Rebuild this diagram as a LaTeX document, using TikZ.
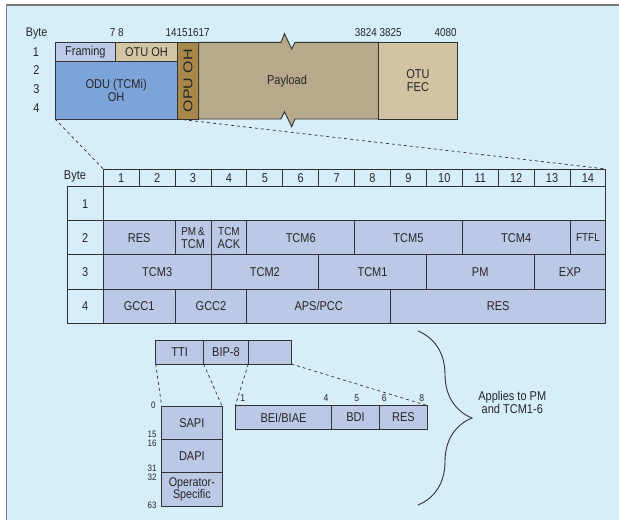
\documentclass[tikz,border=0pt]{standalone}
\usepackage{fontspec}
\setmainfont{Liberation Sans}[FakeStretch=0.86]
\usetikzlibrary{decorations.pathreplacing}
\definecolor{bg}{HTML}{D6EDFA}
\definecolor{framec}{HTML}{7A7A7A}
\definecolor{linec}{HTML}{333333}
\definecolor{txt}{HTML}{262626}
\definecolor{framing}{HTML}{BBCBE8}
\definecolor{otuoh}{HTML}{D4C5A5}
\definecolor{odu}{HTML}{7DA4D8}
\definecolor{opu}{HTML}{A8884A}
\definecolor{payload}{HTML}{B8A98C}
\definecolor{fec}{HTML}{D2C3A3}
\definecolor{tfill}{HTML}{BBC9E6}
\newcommand\tc[5]{\node[tcell, minimum width={#3*35.9pt}, anchor=north west] (#1) at ({103.3+(#2-1)*35.9},{186.7+(#4-1)*34.1}) {#5};}
\newcommand\hc[1]{\node[hcell, anchor=north west] (h#1) at ({103.3+(#1-1)*35.9},169) {#1};}
\newcommand\rc[1]{\node[rcell, anchor=north west] (r#1) at (67.3,{186.7+(#1-1)*34.1}) {#1};}
\begin{document}
\begin{tikzpicture}[x=1pt,y=-1pt,
  every node/.style={text=txt, inner sep=0pt, outer sep=0pt},
  lbl/.style={font=\fontsize{12.8}{13}\selectfont, align=center},
  num/.style={font=\fontsize{11.5}{11}\selectfont},
  box/.style={draw=linec, line width=0.9pt, lbl},
  tcell/.style={draw=linec, line width=0.9pt, fill=tfill, minimum height=34.1pt, lbl},
  hcell/.style={draw=linec, line width=0.9pt, minimum width=35.9pt, minimum height=17.7pt, lbl},
  rcell/.style={draw=linec, line width=0.9pt, minimum width=36pt, minimum height=34.1pt, lbl},
  tiny/.style={font=\fontsize{9.3}{9}\selectfont, anchor=east},
  bitn/.style={font=\fontsize{10}{10}\selectfont},
  dashline/.style={draw=linec, line width=0.7pt, dash pattern=on 3pt off 3pt}]
\useasboundingbox (0,0) rectangle (619,520);
\fill[bg] (7,5) rectangle (619,520);
\draw[framec, line width=1.4pt] (6.7,520) -- (6.7,5) -- (619,5);

% top frame
\node[font=\fontsize{12.5}{12}\selectfont] (byte0) at (36.7,33) {Byte};
\node[lbl] (b1) at (36,52) {1};
\node[lbl] (b2) at (36.5,70) {2};
\node[lbl] (b3) at (36.5,89) {3};
\node[lbl] (b4) at (36.5,108) {4};
\node[num] (n78) at (116.7,33) {7 8};
\node[num] (n1417) at (187.7,33) {14151617};
\node[num] (n3824) at (378.3,33) {3824 3825};
\node[num] (n4080) at (445.7,33) {4080};

\node[box, fill=framing, minimum width=60.7pt, minimum height=19.4pt, anchor=north west] (framing) at (55,42.3) {Framing};
\node[box, fill=otuoh, minimum width=61.6pt, minimum height=19.4pt, anchor=north west] (otuoh) at (115.7,42.3) {OTU OH};
\node[box, fill=odu, minimum width=122.3pt, minimum height=57.3pt, anchor=north west] (odu) at (55,61.7) {ODU (TCMi)\\OH};
\node[box, fill=opu, minimum width=21.4pt, minimum height=76.7pt, anchor=north west] (opu) at (177.3,42.3) {};
\node[lbl, rotate=90] (opulbl) at (opu.center) {\scalebox{1.45}[1]{OPU OH}};
\filldraw[draw=linec, line width=0.9pt, fill=payload] (198.7,42.3) -- (281,42.3) -- (284.5,33.7) -- (291.7,49) -- (295,42.3) -- (378.7,42.3) -- (378.7,119) -- (295,119) -- (291.7,126.7) -- (284.5,111.7) -- (281,119) -- (198.7,119) -- cycle;
\node[lbl] (payload) at (287,81) {Payload};
\node[box, fill=fec, minimum width=78.6pt, minimum height=76.7pt, anchor=north west] (fec) at (378.7,42.3) {OTU\\FEC};

% table
\node[lbl] (tbyte) at (75,176.5) {Byte};
\foreach \i in {1,...,14} {\hc{\i}}
\foreach \i in {1,...,4} {\rc{\i}}
\node[draw=linec, line width=0.9pt, minimum width={14*35.9pt}, minimum height=34.1pt, anchor=north west] (row1) at (103.3,186.7) {};
\tc{res1}{1}{2}{2}{RES}
\tc{pmtcm}{3}{1}{2}{\fontsize{11.5}{9.5}\selectfont PM\,\&\\TCM}
\tc{tcmack}{4}{1}{2}{\fontsize{11.5}{9.5}\selectfont TCM\\ACK}
\tc{tcm6}{5}{3}{2}{TCM6}
\tc{tcm5}{8}{3}{2}{TCM5}
\tc{tcm4}{11}{3}{2}{TCM4}
\tc{ftfl}{14}{1}{2}{\fontsize{11.5}{11}\selectfont FTFL}
\tc{tcm3}{1}{3}{3}{TCM3}
\tc{tcm2}{4}{3}{3}{TCM2}
\tc{tcm1}{7}{3}{3}{TCM1}
\tc{pm}{10}{3}{3}{PM}
\tc{exp}{13}{2}{3}{EXP}
\tc{gcc1}{1}{2}{4}{GCC1}
\tc{gcc2}{3}{2}{4}{GCC2}
\tc{aps}{5}{4}{4}{APS/PCC}
\tc{res4}{9}{6}{4}{RES}

\draw[dashline] (odu.south west) -- (h1.north west);
\draw[dashline] (odu.south east) -- (h14.north east);

% bottom part
\node[box, fill=tfill, minimum width=48pt, minimum height=23.3pt, anchor=north west] (tti) at (155.7,340.7) {TTI};
\node[box, fill=tfill, minimum width=44.6pt, minimum height=23.3pt, anchor=north west] (bip) at (203.7,340.7) {BIP-8};
\node[box, fill=tfill, minimum width=43pt, minimum height=23.3pt, anchor=north west] (emp) at (248.3,340.7) {};

\node[box, fill=tfill, minimum width=60.3pt, minimum height=33.3pt, anchor=north west] (sapi) at (161.7,406) {SAPI};
\node[box, fill=tfill, minimum width=60.3pt, minimum height=33.4pt, anchor=north west] (dapi) at (161.7,439.3) {DAPI};
\node[box, fill=tfill, minimum width=60.3pt, minimum height=33.3pt, anchor=north west, font=\fontsize{12.5}{11}\selectfont] (ops) at (161.7,472.7) {Operator-\\Specific};

\node[box, fill=tfill, minimum width=96.4pt, minimum height=23.6pt, anchor=north west] (bei) at (235.3,405.7) {BEI/BIAE};
\node[box, fill=tfill, minimum width=47.6pt, minimum height=23.6pt, anchor=north west] (bdi) at (331.7,405.7) {BDI};
\node[box, fill=tfill, minimum width=48.4pt, minimum height=23.6pt, anchor=north west] (res5) at (379.3,405.7) {RES};

\node[tiny] (t0) at (155.5,405) {0};
\node[tiny] (t15) at (156.5,434.5) {15};
\node[tiny] (t16) at (156.5,443) {16};
\node[tiny] (t31) at (156.5,468.5) {31};
\node[tiny] (t32) at (156.5,477) {32};
\node[tiny] (t63) at (156.5,505) {63};

\node[bitn] (k1) at (242.7,398) {1};
\node[bitn] (k4) at (326,398) {4};
\node[bitn] (k5) at (356.7,398) {5};
\node[bitn] (k6) at (384.3,398) {6};
\node[bitn] (k8) at (421.7,398) {8};

\draw[dashline] (tti.south west) -- (sapi.north west);
\draw[dashline] (tti.south east) -- (sapi.north east);
\draw[dashline] (bip.south east) -- (bei.north west);
\draw[dashline] (emp.south east) -- (res5.north east);

\draw[linec, line width=0.9pt, decorate, decoration={brace, amplitude=54pt}] (418,331) -- (418,505);
\node[lbl] (applies) at (512.3,402.3) {Applies to PM\\and TCM1-6};
\end{tikzpicture}
\end{document}
